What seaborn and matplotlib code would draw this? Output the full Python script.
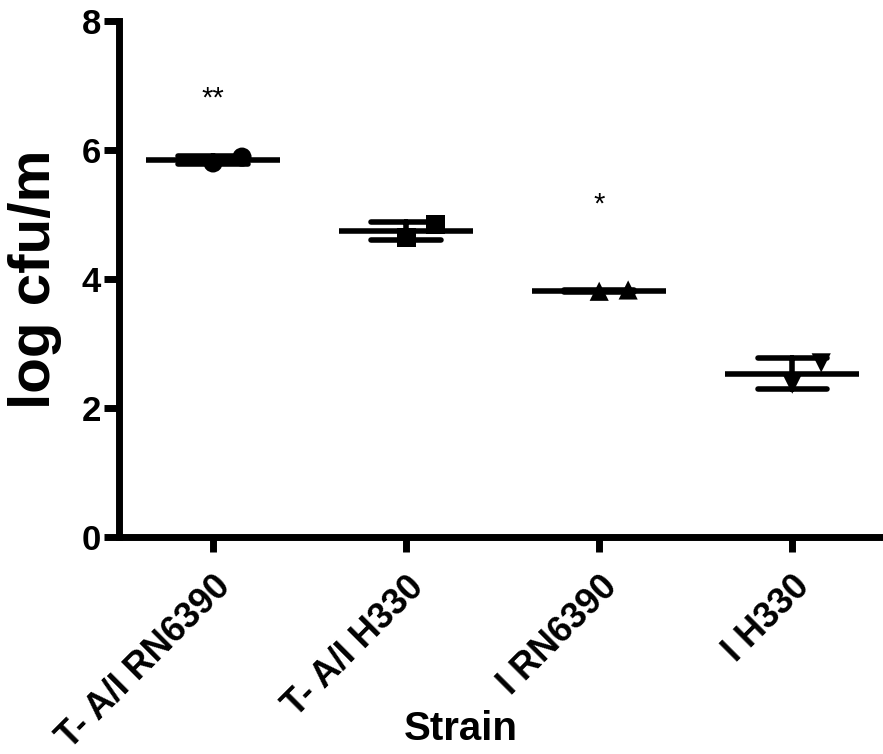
import pandas as pd
import numpy as np
import matplotlib
matplotlib.use("Agg")
import matplotlib.pyplot as plt
import seaborn as sns

# data (two replicates per strain)
strains = ["T- A/I RN6390", "T- A/I H330", "I RN6390", "I H330"]
rep1 = [5.80, 4.64, 3.81, 2.37]
rep2 = [5.89, 4.84, 3.83, 2.70]
stars = ["**", "", "*", ""]
star_y = [6.8, 0, 5.15, 0]
markers = ["o", "s", "^", "v"]

df = pd.DataFrame({
    "strain": strains * 2,
    "value": rep1 + rep2,
    "rep": [0] * 4 + [1] * 4,
})
df["pos"] = df["strain"].map({s: i for i, s in enumerate(strains)}) + df["rep"] * 0.15

sns.set_style("ticks")
plt.rcParams["font.family"] = ["Liberation Sans", "DejaVu Sans"]
plt.rcParams["font.weight"] = "bold"
plt.rcParams["text.color"] = "black"
plt.rcParams["axes.labelcolor"] = "black"
plt.rcParams["axes.edgecolor"] = "black"
plt.rcParams["xtick.color"] = "black"
plt.rcParams["ytick.color"] = "black"

fig = plt.figure(figsize=(8.83, 7.54), dpi=100)
ax = fig.add_axes([0.1348, 0.2878, 0.8652, 0.6843])

# mean +/- SD
sns.pointplot(data=df, x="strain", y="value", order=strains, errorbar="sd",
              capsize=0.36, color="black", linestyle="none", marker="_",
              markersize=96, markeredgewidth=4, err_kws={"linewidth": 4},
              ax=ax, zorder=3)

# individual points
sns.scatterplot(data=df, x="pos", y="value", style="strain", markers=markers,
                color="black", s=190, edgecolor="none", legend=False, ax=ax, zorder=4)

for i, t in enumerate(stars):
    if t:
        ax.text(i, star_y[i], t, ha="center", va="center", fontsize=21,
                fontweight="normal", color="black")

ax.set_xlim(-0.487, 3.47)
ax.set_ylim(0, 8)
ax.set_yticks([0, 2, 4, 6, 8])
ax.set_xticks(range(len(strains)))
ax.set_xticklabels(strains, rotation=45, ha="right", rotation_mode="anchor",
                   fontsize=26, fontweight="bold")
ax.tick_params(axis="y", labelsize=25, width=5, length=11, pad=2)
ax.tick_params(axis="x", width=5, length=11, pad=12)
for lab in ax.get_yticklabels():
    lab.set_fontweight("bold")

for side in ["top", "right"]:
    ax.spines[side].set_visible(False)
for side in ["left", "bottom"]:
    ax.spines[side].set_linewidth(5)

ax.set_xlabel("Strain", fontsize=29, fontweight="bold")
ax.set_ylabel("log cfu/m", fontsize=42, fontweight="bold", labelpad=14)
ax.xaxis.set_label_coords(0.448, -0.335)

fig.savefig("out.png", dpi=100)
